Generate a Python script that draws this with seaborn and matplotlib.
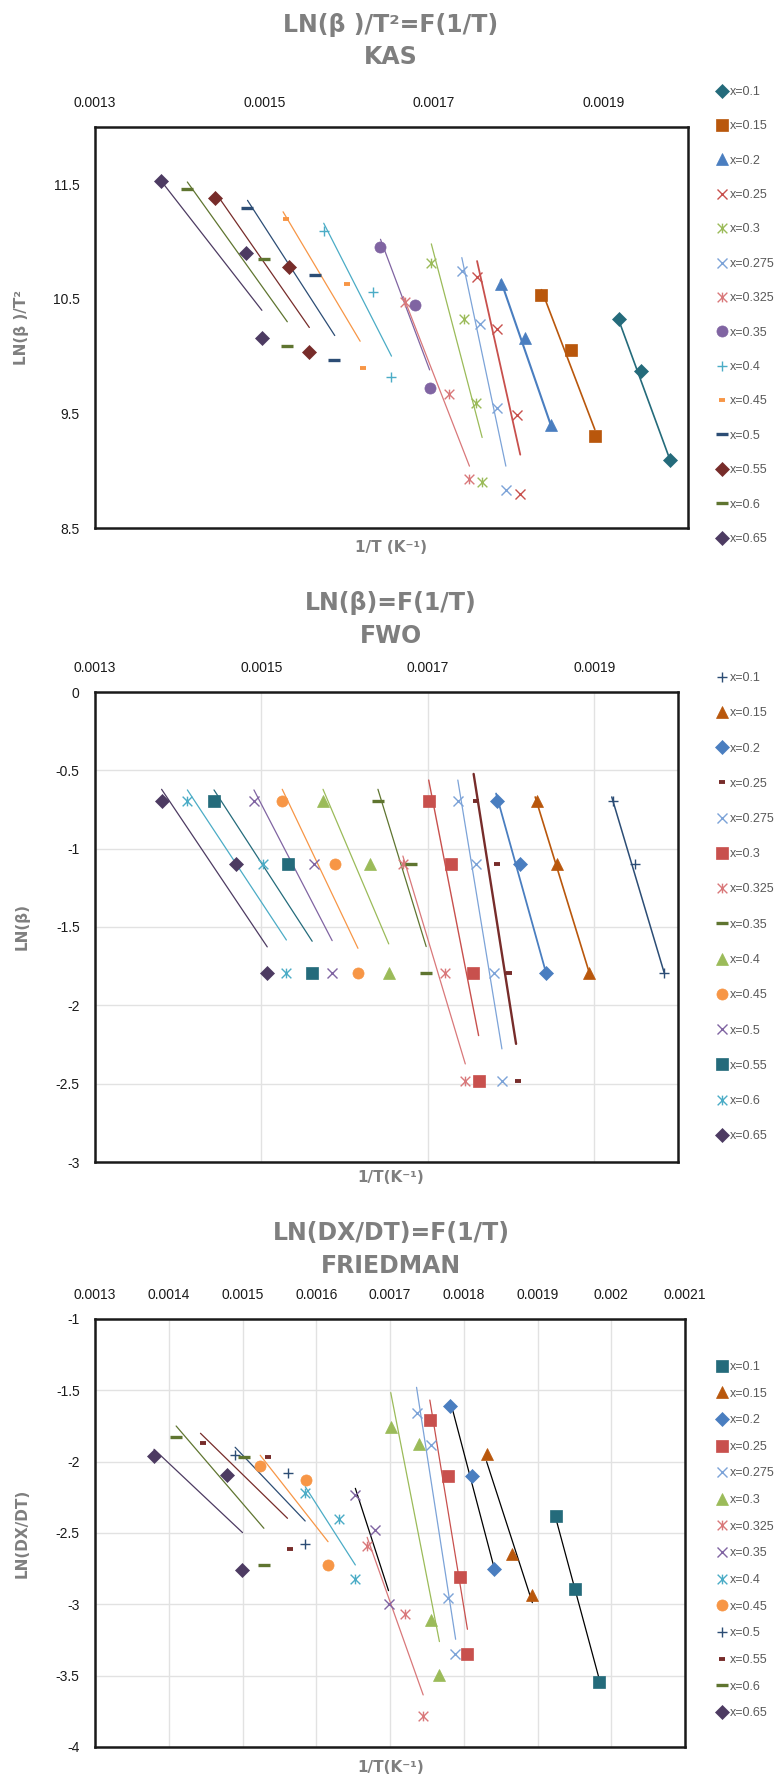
"""
Kinetic isoconversional plots: KAS, FWO and Friedman (three stacked panels)
"""
import matplotlib
matplotlib.use("Agg")
import matplotlib.pyplot as plt
from matplotlib.path import Path
from matplotlib.ticker import FuncFormatter
import seaborn as sns

# ---------------- data (x = 1/T in K^-1) ----------------
kas_order = ["0.1", "0.15", "0.2", "0.25", "0.3", "0.275", "0.325",
             "0.35", "0.4", "0.45", "0.5", "0.55", "0.6", "0.65"]
kas_invT = {
    "0.1": [0.001918, 0.001945, 0.001979],
    "0.15": [0.001827, 0.001862, 0.001890],
    "0.2": [0.001779, 0.001808, 0.001838],
    "0.25": [0.001751, 0.001775, 0.001798, 0.001802],
    "0.3": [0.001697, 0.001735, 0.001750, 0.001757],
    "0.275": [0.001733, 0.001754, 0.001775, 0.001785],
    "0.325": [0.001666, 0.001718, 0.001742],
    "0.35": [0.001637, 0.001678, 0.001695],
    "0.4": [0.001570, 0.001628, 0.001649],
    "0.45": [0.001525, 0.001598, 0.001616],
    "0.5": [0.001480, 0.001560, 0.001582],
    "0.55": [0.001442, 0.001529, 0.001553],
    "0.6": [0.001409, 0.001499, 0.001527],
    "0.65": [0.001378, 0.001478, 0.001497],
}
kas_y = {
    "0.1": [10.32, 9.87, 9.09],
    "0.15": [10.53, 10.05, 9.30],
    "0.2": [10.63, 10.16, 9.40],
    "0.25": [10.69, 10.24, 9.49, 8.80],
    "0.3": [10.81, 10.32, 9.59, 8.90],
    "0.275": [10.74, 10.28, 9.55, 8.83],
    "0.325": [10.47, 9.67, 8.93],
    "0.35": [10.95, 10.45, 9.72],
    "0.4": [11.09, 10.56, 9.82],
    "0.45": [11.20, 10.63, 9.90],
    "0.5": [11.29, 10.71, 9.97],
    "0.55": [11.38, 10.78, 10.04],
    "0.6": [11.46, 10.85, 10.09],
    "0.65": [11.53, 10.90, 10.16],
}
# trendline end points as drawn
kas_fit_x = {
    "0.1": [0.001918, 0.001979], "0.15": [0.001827, 0.001890],
    "0.2": [0.001779, 0.001838], "0.25": [0.001751, 0.001802],
    "0.3": [0.001697, 0.001757], "0.275": [0.001733, 0.001785],
    "0.325": [0.001664, 0.001742], "0.35": [0.001637, 0.001695],
    "0.4": [0.001570, 0.001650], "0.45": [0.001522, 0.001613],
    "0.5": [0.001480, 0.001583], "0.55": [0.001442, 0.001553],
    "0.6": [0.001409, 0.001527], "0.65": [0.001378, 0.001497],
}
kas_fit_y = {
    "0.1": [10.32, 9.09], "0.15": [10.58, 9.36], "0.2": [10.66, 9.40],
    "0.25": [10.83, 9.14], "0.3": [10.98, 9.29], "0.275": [10.86, 9.04],
    "0.325": [10.52, 9.04], "0.35": [11.02, 9.88], "0.4": [11.16, 10.00],
    "0.45": [11.26, 10.13], "0.5": [11.36, 10.18], "0.55": [11.43, 10.25],
    "0.6": [11.52, 10.30], "0.65": [11.53, 10.40],
}

fwo_order = ["0.1", "0.15", "0.2", "0.25", "0.275", "0.3", "0.325",
             "0.35", "0.4", "0.45", "0.5", "0.55", "0.6", "0.65"]
fwo_invT = {
    "0.1": [0.001923, 0.001949, 0.001984],
    "0.15": [0.001831, 0.001855, 0.001894],
    "0.2": [0.001783, 0.001811, 0.001842],
    "0.25": [0.001758, 0.001783, 0.001798, 0.001808],
    "0.275": [0.001736, 0.001758, 0.001780, 0.001789],
    "0.3": [0.001701, 0.001728, 0.001754, 0.001761],
    "0.325": [0.001670, 0.001721, 0.001745],
    "0.35": [0.001640, 0.001680, 0.001698],
    "0.4": [0.001574, 0.001631, 0.001653],
    "0.45": [0.001525, 0.001588, 0.001616],
    "0.5": [0.001491, 0.001563, 0.001585],
    "0.55": [0.001443, 0.001532, 0.001561],
    "0.6": [0.001411, 0.001502, 0.001530],
    "0.65": [0.001380, 0.001469, 0.001507],
}
fwo_lnb = {
    "0.1": [-0.693, -1.099, -1.792],
    "0.15": [-0.693, -1.099, -1.792],
    "0.2": [-0.693, -1.099, -1.792],
    "0.25": [-0.693, -1.099, -1.792, -2.485],
    "0.275": [-0.693, -1.099, -1.792, -2.485],
    "0.3": [-0.693, -1.099, -1.792, -2.485],
    "0.325": [-1.099, -1.792, -2.485],
    "0.35": [-0.693, -1.099, -1.792],
    "0.4": [-0.693, -1.099, -1.792],
    "0.45": [-0.693, -1.099, -1.792],
    "0.5": [-0.693, -1.099, -1.792],
    "0.55": [-0.693, -1.099, -1.792],
    "0.6": [-0.693, -1.099, -1.792],
    "0.65": [-0.693, -1.099, -1.792],
}
fwo_fit_x = {
    "0.1": [0.001921, 0.001984], "0.15": [0.001829, 0.001894],
    "0.2": [0.001782, 0.001842], "0.25": [0.001755, 0.001806],
    "0.275": [0.001736, 0.001789], "0.3": [0.001701, 0.001761],
    "0.325": [0.001670, 0.001745], "0.35": [0.001640, 0.001698],
    "0.4": [0.001574, 0.001653], "0.45": [0.001525, 0.001616],
    "0.5": [0.001491, 0.001585], "0.55": [0.001443, 0.001561],
    "0.6": [0.001411, 0.001530], "0.65": [0.001380, 0.001507],
}
fwo_fit_y = {
    "0.1": [-0.670, -1.792], "0.15": [-0.670, -1.792], "0.2": [-0.648, -1.792],
    "0.25": [-0.523, -2.246], "0.275": [-0.562, -2.278], "0.3": [-0.562, -2.193],
    "0.325": [-1.047, -2.374], "0.35": [-0.621, -1.625], "0.4": [-0.621, -1.608],
    "0.45": [-0.621, -1.636], "0.5": [-0.625, -1.587], "0.55": [-0.625, -1.591],
    "0.6": [-0.625, -1.583], "0.65": [-0.621, -1.627],
}

fr_order = ["0.1", "0.15", "0.2", "0.25", "0.275", "0.3", "0.325",
            "0.35", "0.4", "0.45", "0.5", "0.55", "0.6", "0.65"]
fr_invT = {
    "0.1": [0.001925, 0.001951, 0.001984],
    "0.15": [0.001831, 0.001865, 0.001893],
    "0.2": [0.001782, 0.001811, 0.001841],
    "0.25": [0.001754, 0.001778, 0.001795, 0.001805],
    "0.275": [0.001736, 0.001756, 0.001779, 0.001788],
    "0.3": [0.001701, 0.001739, 0.001755, 0.001767],
    "0.325": [0.001669, 0.001721, 0.001745],
    "0.35": [0.001653, 0.001680, 0.001698],
    "0.4": [0.001585, 0.001631, 0.001653],
    "0.45": [0.001524, 0.001586, 0.001616],
    "0.5": [0.001490, 0.001562, 0.001585],
    "0.55": [0.001447, 0.001535, 0.001564],
    "0.6": [0.001410, 0.001502, 0.001529],
    "0.65": [0.001380, 0.001479, 0.001499],
}
fr_lnrate = {
    "0.1": [-2.381, -2.894, -3.542],
    "0.15": [-1.946, -2.649, -2.934],
    "0.2": [-1.607, -2.098, -2.754],
    "0.25": [-1.708, -2.098, -2.806, -3.348],
    "0.275": [-1.656, -1.883, -2.957, -3.348],
    "0.3": [-1.759, -1.878, -3.109, -3.495],
    "0.325": [-2.591, -3.067, -3.782],
    "0.35": [-2.236, -2.479, -2.997],
    "0.4": [-2.217, -2.399, -2.824],
    "0.45": [-2.030, -2.128, -2.724],
    "0.5": [-1.951, -2.082, -2.577],
    "0.55": [-1.867, -1.969, -2.609],
    "0.6": [-1.827, -1.969, -2.722],
    "0.65": [-1.960, -2.095, -2.759],
}
fr_fit_x = {
    "0.1": [0.001925, 0.001984], "0.15": [0.001831, 0.001893],
    "0.2": [0.001782, 0.001841], "0.25": [0.001754, 0.001805],
    "0.275": [0.001736, 0.001789], "0.3": [0.001701, 0.001767],
    "0.325": [0.001669, 0.001745], "0.35": [0.001653, 0.001698],
    "0.4": [0.001585, 0.001653], "0.45": [0.001524, 0.001616],
    "0.5": [0.001490, 0.001585], "0.55": [0.001443, 0.001561],
    "0.6": [0.001410, 0.001529], "0.65": [0.001380, 0.001500],
}
fr_fit_y = {
    "0.1": [-2.40, -3.53], "0.15": [-2.00, -2.988], "0.2": [-1.58, -2.74],
    "0.25": [-1.568, -3.175], "0.275": [-1.479, -3.245], "0.3": [-1.516, -3.261],
    "0.325": [-2.530, -3.635], "0.35": [-2.187, -2.904], "0.4": [-2.175, -2.724],
    "0.45": [-1.955, -2.561], "0.5": [-1.899, -2.416], "0.55": [-1.801, -2.397],
    "0.6": [-1.750, -2.467], "0.65": [-1.913, -2.497],
}

kas_xticks = [0.0013, 0.0015, 0.0017, 0.0019]
kas_yticks = [8.5, 9.5, 10.5, 11.5]
fwo_xticks = [0.0013, 0.0015, 0.0017, 0.0019]
fwo_yticks = [0, -0.5, -1, -1.5, -2, -2.5, -3]
fr_xticks = [0.0013, 0.0014, 0.0015, 0.0016, 0.0017, 0.0018, 0.0019, 0.002, 0.0021]
fr_yticks = [-1, -1.5, -2, -2.5, -3, -3.5, -4]

# ---------------- styles ----------------
C = {
    "teal": "#246B7B", "brown": "#B9570C", "blue": "#4A7EC0", "red": "#C8504D",
    "green": "#9BBB59", "lblue": "#7CA3D8", "pink": "#D9787A", "purple": "#8064A2",
    "cyan": "#4BACC6", "orange": "#F79646", "navy": "#2C4D75", "dred": "#772C2A",
    "olive": "#5F7530", "dpurple": "#4D3B62",
}
STAR = Path([(-1, -1), (1, 1), (-1, 1), (1, -1), (0, -1), (0, 1)],
            [Path.MOVETO, Path.LINETO] * 3)
# marker kind -> (marker, size, edge width)
MK = {
    "diamond": ("D", 7.2, 0.5), "square": ("s", 8, 0.5), "tri": ("^", 8, 0.5),
    "circle": ("o", 8, 0.5), "x": ("x", 7, 1.0), "plus": ("+", 7.5, 1.0),
    "star": (STAR, 7, 1.0), "dash": ("_", 8, 2.4), "sdash": ("_", 4.5, 2.8),
}
kas_style = {
    "0.1": ("teal", "diamond"), "0.15": ("brown", "square"), "0.2": ("blue", "tri"),
    "0.25": ("red", "x"), "0.3": ("green", "star"), "0.275": ("lblue", "x"),
    "0.325": ("pink", "star"), "0.35": ("purple", "circle"), "0.4": ("cyan", "plus"),
    "0.45": ("orange", "sdash"), "0.5": ("navy", "dash"), "0.55": ("dred", "diamond"),
    "0.6": ("olive", "dash"), "0.65": ("dpurple", "diamond"),
}
fwo_style = {
    "0.1": ("navy", "plus"), "0.15": ("brown", "tri"), "0.2": ("blue", "diamond"),
    "0.25": ("dred", "sdash"), "0.275": ("lblue", "x"), "0.3": ("red", "square"),
    "0.325": ("pink", "star"), "0.35": ("olive", "dash"), "0.4": ("green", "tri"),
    "0.45": ("orange", "circle"), "0.5": ("purple", "x"), "0.55": ("teal", "square"),
    "0.6": ("cyan", "star"), "0.65": ("dpurple", "diamond"),
}
fr_style = {
    "0.1": ("teal", "square"), "0.15": ("brown", "tri"), "0.2": ("blue", "diamond"),
    "0.25": ("red", "square"), "0.275": ("lblue", "x"), "0.3": ("green", "tri"),
    "0.325": ("pink", "star"), "0.35": ("purple", "x"), "0.4": ("cyan", "star"),
    "0.45": ("orange", "circle"), "0.5": ("navy", "plus"), "0.55": ("dred", "sdash"),
    "0.6": ("olive", "dash"), "0.65": ("dpurple", "diamond"),
}
kas_lw = {"0.1": 1.2, "0.15": 1.2, "0.2": 1.5, "0.25": 1.3}
fwo_lw = {"0.1": 1.1, "0.15": 1.2, "0.2": 1.3, "0.25": 1.7, "0.3": 1.0}
fr_black = ["0.1", "0.15", "0.2", "0.35"]

sns.set_theme(style="white")
plt.rcParams["font.family"] = ["Liberation Sans", "DejaVu Sans"]

W, H = 780, 1779
fig = plt.figure(figsize=(W / 100, H / 100), dpi=100)
fig.patch.set_facecolor("white")


def fx(px):
    return px / W


def fy(py):
    return 1 - py / H


GREY = "#7F7F7F"


def xfmt(v, _):
    return f"{v:.4f}".rstrip("0").rstrip(".")


def yfmt(v, _):
    return f"{v:g}" if abs(v) > 1e-12 else "0"


def panel(box, order, xs, ys, fx_, fy_, style, lw, black, xlim, ylim, xticks, yticks,
          grid, title1, title2, ttl_y, ylabel, xlabel, xl_y, leg_top, leg_space):
    l, t, r, b = box
    ax = fig.add_axes([fx(l), fy(b), fx(r) - fx(l), fy(t) - fy(b)])
    handles = []
    for k in order:
        cname, mkind = style[k]
        col = C[cname]
        lc = "black" if k in black else col
        sns.lineplot(x=fx_[k], y=fy_[k], ax=ax, color=lc, linewidth=lw.get(k, 0.9),
                     estimator=None, sort=False, zorder=2)
        m, ms, mew = MK[mkind]
        sns.lineplot(x=xs[k], y=ys[k], ax=ax, color=col, linestyle="", marker=m,
                     markersize=ms, markeredgewidth=mew, markeredgecolor=col,
                     markerfacecolor=col, estimator=None, sort=False, zorder=3)
        handles.append(ax.lines[-1])
    ax.set_xlim(*xlim)
    ax.set_ylim(*ylim)
    ax.set_xticks(xticks)
    ax.set_yticks(yticks)
    ax.xaxis.set_major_formatter(FuncFormatter(xfmt))
    ax.yaxis.set_major_formatter(FuncFormatter(yfmt))
    ax.tick_params(axis="x", top=True, bottom=False, labeltop=True, labelbottom=False,
                   length=0, pad=12, labelsize=10, labelcolor="#1a1a1a")
    ax.tick_params(axis="y", length=0, pad=11, labelsize=10, labelcolor="#1a1a1a")
    ax.set_xlabel("")
    ax.set_ylabel("")
    if grid:
        ax.grid(True, color="#E2E2E2", linewidth=1.0)
    else:
        ax.grid(False)
    ax.set_axisbelow(True)
    for s in ax.spines.values():
        s.set_visible(True)
        s.set_linewidth(1.8)
        s.set_color("#1a1a1a")
    ax.legend(handles, [f"x={k}" for k in order], loc="upper left",
              bbox_to_anchor=(fx(717), fy(leg_top)), bbox_transform=fig.transFigure,
              frameon=False, fontsize=9, labelcolor="#595959", handlelength=0.85,
              handletextpad=0.2, borderpad=0, borderaxespad=0, numpoints=1,
              labelspacing=leg_space)
    fig.text(fx(391), fy(ttl_y[0]), title1, ha="center", va="center", fontsize=17,
             fontweight="bold", color=GREY, family="DejaVu Sans")
    fig.text(fx(391), fy(ttl_y[1]), title2, ha="center", va="center", fontsize=17,
             fontweight="bold", color=GREY, family="DejaVu Sans")
    fig.text(fx(22), fy((t + b) / 2), ylabel, rotation=90, ha="center", va="center",
             fontsize=11, fontweight="bold", color=GREY, family="DejaVu Sans")
    fig.text(fx(391), fy(xl_y), xlabel, ha="center", va="center", fontsize=11,
             fontweight="bold", color=GREY, family="DejaVu Sans")
    return ax


panel((95, 127, 688, 528), kas_order, kas_invT, kas_y, kas_fit_x, kas_fit_y, kas_style,
      kas_lw, [], (0.0013, 0.0020), (8.5, 12.0), kas_xticks, kas_yticks, False,
      "LN(β )/T²=F(1/T)", "KAS", (25, 57), "LN(β )/T²", "1/T (K⁻¹)", 548, 86, 1.79)

panel((95, 692, 677.5, 1162), fwo_order, fwo_invT, fwo_lnb, fwo_fit_x, fwo_fit_y,
      fwo_style, fwo_lw, [], (0.0013, 0.0020), (-3, 0), fwo_xticks, fwo_yticks, True,
      "LN(β)=F(1/T)", "FWO", (603, 636), "LN(β)", "1/T(K⁻¹)", 1178, 672, 1.86)

panel((95, 1319, 685, 1747), fr_order, fr_invT, fr_lnrate, fr_fit_x, fr_fit_y,
      fr_style, {}, fr_black, (0.0013, 0.0021), (-4, -1), fr_xticks, fr_yticks, True,
      "LN(DX/DT)=F(1/T)", "FRIEDMAN", (1233, 1266), "LN(DX/DT)", "1/T(K⁻¹)", 1767,
      1361, 1.17)

fig.savefig("out.png", dpi=100, facecolor="white")
print("saved out.png")
